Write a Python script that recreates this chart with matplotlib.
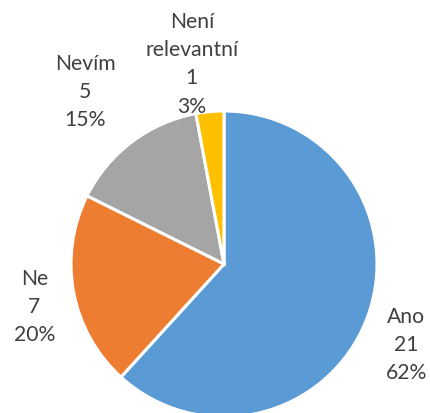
import numpy as np
import matplotlib
matplotlib.use('Agg')
import matplotlib.pyplot as plt

# odpovedi z dotazniku
kategorie = ['Ano', 'Ne', 'Nevím', 'Není\nrelevantní']
pocty = [21, 7, 5, 1]
procenta = ['62%', '20%', '15%', '3%']
barvy = ['#5B9BD5', '#ED7D31', '#A5A5A5', '#FFC000']

plt.rcParams['font.family'] = ['Lato', 'DejaVu Sans']

fig = plt.figure(figsize=(4.30, 4.14), dpi=100)
ax = fig.add_axes([0, 0, 1, 1])

r = 153
cx, cy = 224, 414 - 265
wedges, _ = ax.pie(pocty, colors=barvy, startangle=90, counterclock=False,
                   radius=r, center=(cx, cy),
                   wedgeprops=dict(edgecolor='white', linewidth=2.2))

# popisky vne kruhu: vzdalenost (v polomerech) a pootoceni od stredu vysece
vzdal = [1.30, 1.27, 1.45, 1.33]
posun = [-2.5, 1.9, 1.7, 3.8]
for w, kat, n, p, d, du in zip(wedges, kategorie, pocty, procenta, vzdal, posun):
    uhel = np.deg2rad((w.theta1 + w.theta2) / 2 + du)
    x = cx + d * r * np.cos(uhel)
    y = cy + d * r * np.sin(uhel)
    txt = '%s\n%d\n%s' % (kat, n, p)
    ax.text(x, y, txt, ha='center', va='center', fontsize=15.2,
            color='#404040', linespacing=1.52)

ax.set_xlim(0, 430)
ax.set_ylim(0, 414)
ax.set_aspect('equal')
ax.axis('off')

fig.savefig('out.png', dpi=100)
